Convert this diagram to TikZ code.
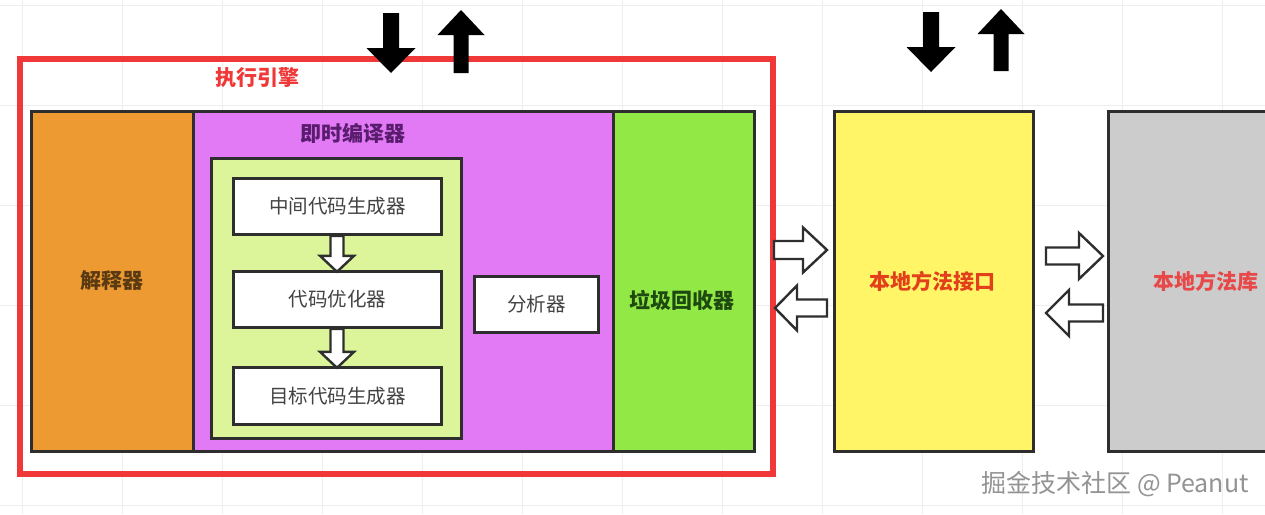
\documentclass[tikz,border=0pt]{standalone}
\usepackage{fontspec}
\setmainfont{Noto Sans CJK SC}
\usetikzlibrary{calc}
\definecolor{cRed}{HTML}{F03838}
\definecolor{cOrange}{HTML}{EE9A32}
\definecolor{cPurple}{HTML}{E27AF5}
\definecolor{cLgreen}{HTML}{DDF59A}
\definecolor{cGreen}{HTML}{92E845}
\definecolor{cYellow}{HTML}{FFF567}
\definecolor{cGray}{HTML}{CCCCCC}
\definecolor{cLine}{HTML}{2E2E2E}
\definecolor{cBrown}{HTML}{5A3A12}
\definecolor{cDpurple}{HTML}{5A1C6E}
\definecolor{cDgreen}{HTML}{1E4A12}
\definecolor{cOrRed}{HTML}{E2401A}
\definecolor{cPinkRed}{HTML}{E84848}
\definecolor{cGrid}{HTML}{EEEEEE}
\tikzset{
  blk/.style={draw=cLine, line width=2.8pt, anchor=north west, inner sep=0pt},
  lbl/.style={font=\fontsize{21}{24}\selectfont\bfseries, inner sep=0pt},
  sub/.style={font=\fontsize{19.5}{23}\selectfont, text=cLine!90, inner sep=0pt},
  hol/.style={draw=cLine, line width=2.4pt, fill=white, line join=miter},
  solid arrow/.style={fill=black, draw=none},
  pics/blockarrow/.style args={#1/#2/#3/#4}{code={
    \path[pic actions] (0,-#2) -- ({#1-#4},-#2) -- ({#1-#4},-#3) -- (#1,0)
      -- ({#1-#4},#3) -- ({#1-#4},#2) -- (0,#2) -- cycle;}}
}
\begin{document}
\begin{tikzpicture}[x=1pt,y=-1pt]
\useasboundingbox (0,0) rectangle (1265,514);
\fill[white] (0,0) rectangle (1265,514);
% faint background grid
\foreach \gx in {22,122,...,1222} \draw[cGrid, line width=0.8pt] (\gx,0) -- (\gx,514);
\foreach \gy in {5,105,...,505} \draw[cGrid, line width=0.8pt] (0,\gy) -- (1265,\gy);

% execution engine frame
\node[draw=cRed, line width=5.5pt, minimum width=753pt, minimum height=415pt, anchor=north west, inner sep=0pt] (engine) at (17,56) {};
\node[lbl, text=cRed] (engineT) at (257,78) {执行引擎};

% interpreter
\node[blk, fill=cOrange, minimum width=162pt, minimum height=340pt] (interp) at (30,110) {};
\node[lbl, text=cBrown] (interpT) at (112,281) {解释器};

% JIT compiler
\node[blk, fill=cPurple, minimum width=420pt, minimum height=340pt] (jit) at (192,110) {};
\node[lbl, text=cDpurple] (jitT) at (353,133) {即时编译器};
\node[draw=cLine, line width=2.5pt, fill=cLgreen, anchor=north west, minimum width=250pt, minimum height=280pt, inner sep=0pt] (inner) at (210,157) {};
\node[blk, fill=white, minimum width=208pt, minimum height=56pt] (gen1) at (232,177) {};
\node[sub] (gen1T) at (gen1.center) {中间代码生成器};
\node[blk, fill=white, minimum width=208pt, minimum height=56pt] (opt) at (232,270) {};
\node[sub] (optT) at (opt.center) {代码优化器};
\node[blk, fill=white, minimum width=208pt, minimum height=57pt] (gen2) at (232,366) {};
\node[sub] (gen2T) at (gen2.center) {目标代码生成器};
\pic[hol, rotate=-90] at (gen1.south -| 337,0) {blockarrow=36/6.5/17/16};
\pic[hol, rotate=-90] at (opt.south -| 337,0) {blockarrow=39/6.5/17/16};
\node[blk, fill=white, minimum width=124pt, minimum height=56pt] (prof) at (473,275) {};
\node[sub] (profT) at (prof.center) {分析器};

% GC
\node[blk, fill=cGreen, minimum width=141pt, minimum height=340pt] (gc) at (612,110) {};
\node[lbl, text=cDgreen] (gcT) at (682,300) {垃圾回收器};

% JNI
\node[blk, fill=cYellow, minimum width=199pt, minimum height=340pt] (jni) at (833,110) {};
\node[lbl, text=cOrRed] (jniT) at (932,281) {本地方法接口};

% native library
\node[blk, fill=cGray, minimum width=180pt, minimum height=340pt] (lib) at (1107,110) {};
\node[lbl, text=cPinkRed] (libT) at (1206,281) {本地方法库};

% hollow arrows
\pic[hol] at (774,250) {blockarrow=53/9/22.5/24};
\pic[hol, rotate=180] at (827,308) {blockarrow=52/8.5/22.5/22};
\pic[hol] at (1046,256) {blockarrow=57/8.5/23/24};
\pic[hol, rotate=180] at (1103,313) {blockarrow=57/8.5/23/23};

% black arrows on top
\pic[solid arrow, rotate=-90] at (391,13) {blockarrow=60/8/24.5/25};
\pic[solid arrow, rotate=90] at (461,73) {blockarrow=63/7.5/23.5/25};
\pic[solid arrow, rotate=-90] at (931,12) {blockarrow=60/8/24.5/25};
\pic[solid arrow, rotate=90] at (1001,71) {blockarrow=62/7.5/23.5/25};

% watermark
\node[text=gray!85, font=\fontsize{25}{28}\selectfont, anchor=east, inner sep=0pt] (wm) at (1249,484) {掘金技术社区 @ Peanut};
\end{tikzpicture}
\end{document}
